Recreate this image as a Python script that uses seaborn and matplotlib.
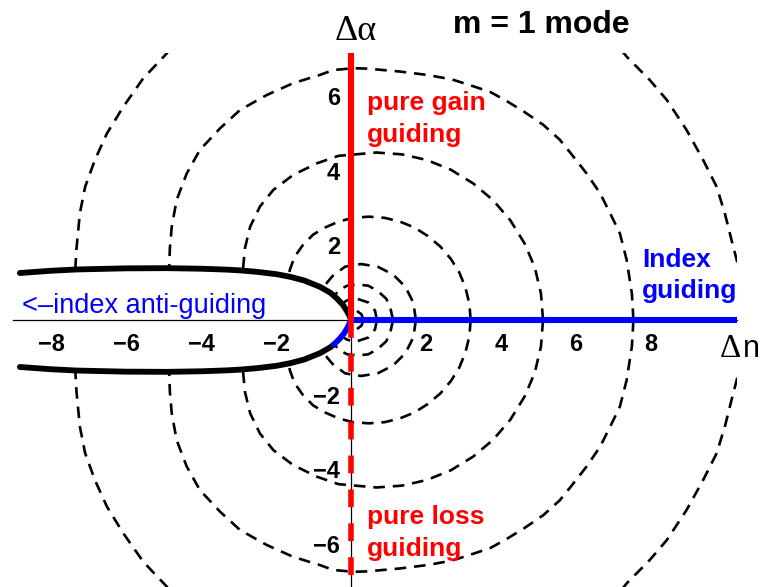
import matplotlib
matplotlib.use("Agg")
import matplotlib.pyplot as plt
import seaborn as sns
import pandas as pd

sns.set_theme(style="white")
plt.rcParams["font.family"] = ["Liberation Sans", "DejaVu Sans"]

# ---- data (Δn, Δα) ----
x_ticks = [-8, -6, -4, -2, 2, 4, 6, 8]
y_ticks = [-6, -4, -2, 2, 4, 6]

# boundary of the anti-guiding region, upper branch
edge_up_dn = [-8.83, -8.0, -7.31, -6.0, -4.91, -4.0, -3.3, -2.96, -2.5, -2.0, -1.63,
              -1.25, -0.83, -0.55, -0.38, -0.22, -0.11, -0.04, 0.0]
edge_up_da = [1.26, 1.32, 1.355, 1.385, 1.39, 1.375, 1.35, 1.33, 1.29, 1.23, 1.16,
              1.06, 0.89, 0.73, 0.58, 0.41, 0.24, 0.11, 0.0]
# lower branch (black part) and its blue tip at the origin
edge_lo_dn = [-8.83, -8.0, -7.31, -6.0, -4.91, -4.0, -3.3, -2.96, -2.5, -2.0, -1.63,
              -1.25, -0.83, -0.55, -0.45]
edge_lo_da = [-1.26, -1.32, -1.355, -1.385, -1.39, -1.375, -1.35, -1.33, -1.29, -1.23,
              -1.16, -1.06, -0.89, -0.73, -0.65]
tip_dn = [-0.45, -0.30, -0.18, -0.08, 0.0]
tip_da = [-0.65, -0.50, -0.35, -0.18, 0.0]

# index-guiding axis and gain / loss axis
index_dn = [0.0, 10.3]
index_da = [0.0, 0.0]
gain_dn = [0.0, 0.0]
gain_da = [0.0, 7.15]
loss_dn = [0.0, 0.0]
loss_da = [0.0, -7.15]

# dashed contours, upper half (mirrored for the lower half)
ring_0_dn = [0.33, 0.28, 0.15, 0.0, -0.08]
ring_0_da = [0.0, 0.15, 0.25, 0.24, 0.17]
ring_a_dn = [0.69, 0.64, 0.46, 0.13, -0.10, -0.24]
ring_a_da = [0.0, 0.25, 0.47, 0.58, 0.53, 0.44]
ring_b_dn = [1.12, 1.05, 0.94, 0.71, 0.46, 0.18, -0.10, -0.30, -0.44]
ring_b_da = [0.0, 0.32, 0.57, 0.78, 0.92, 0.95, 0.92, 0.82, 0.66]
ring_c_dn = [1.73, 1.66, 1.45, 1.12, 0.71, 0.27, -0.16, -0.50, -0.70, -0.78]
ring_c_da = [0.0, 0.47, 0.89, 1.22, 1.43, 1.50, 1.43, 1.17, 0.93, 0.84]
ring_d_dn = [3.19, 3.155, 3.05, 2.89, 2.66, 2.38, 2.05, 1.69, 1.30, 0.89, 0.47, 0.06,
             -0.33, -0.69, -1.01, -1.29, -1.50, -1.63, -1.66]
ring_d_da = [0.0, 0.44, 0.87, 1.27, 1.64, 1.97, 2.25, 2.48, 2.64, 2.74, 2.77, 2.74,
             2.64, 2.48, 2.29, 2.00, 1.70, 1.35, 1.17]
ring_e_dn = [5.12, 5.065, 4.90, 4.63, 4.25, 3.79, 3.26, 2.66, 2.02, 1.36, 0.68, 0.0,
             -0.34, -0.91, -1.54, -2.07, -2.43, -2.69, -2.83, -2.88]
ring_e_da = [0.0, 0.71, 1.41, 2.05, 2.67, 3.21, 3.66, 4.03, 4.29, 4.44, 4.49, 4.43,
             4.40, 4.20, 3.89, 3.49, 3.04, 2.50, 1.92, 1.37]
ring_f_dn = [7.53, 7.49, 7.43, 7.35, 7.17, 6.91, 6.64, 6.28, 5.93, 5.57, 5.13, 4.62,
             4.15, 3.72, 3.25, 2.69, 2.03, 1.31, 0.43, 0.05, -0.48, -0.83, -1.54, -2.25,
             -2.96, -3.49, -4.03, -4.38, -4.65, -4.78, -4.83, -4.85]
ring_f_da = [0.0, 0.70, 1.09, 1.61, 2.32, 2.86, 3.40, 3.93, 4.38, 4.83, 5.23, 5.58,
             5.87, 6.11, 6.27, 6.45, 6.57, 6.66, 6.74, 6.75, 6.70, 6.57, 6.35, 6.03,
             5.63, 5.14, 4.56, 3.93, 3.22, 2.50, 1.92, 1.40]
ring_g_right_dn = [10.30, 10.18, 9.97, 9.75, 9.39, 8.95, 8.42, 7.97, 7.35, 7.20]
ring_g_right_da = [1.55, 2.01, 2.85, 3.57, 4.29, 5.09, 5.90, 6.43, 7.06, 7.25]
ring_g_left_dn = [-4.85, -4.91, -5.54, -6.07, -6.51, -6.83, -7.09, -7.23, -7.32, -7.35]
ring_g_left_da = [7.25, 7.15, 6.48, 5.72, 5.00, 4.29, 3.57, 2.86, 1.92, 1.40]

rings = [
    (ring_0_dn, ring_0_da), (ring_a_dn, ring_a_da), (ring_b_dn, ring_b_da),
    (ring_c_dn, ring_c_da), (ring_d_dn, ring_d_da), (ring_e_dn, ring_e_da),
    (ring_f_dn, ring_f_da), (ring_g_right_dn, ring_g_right_da),
    (ring_g_left_dn, ring_g_left_da),
]

# ---- figure ----
fig = plt.figure(figsize=(7.66, 5.87), dpi=100)
ax = fig.add_axes([0.01762, 0.0005, 0.9449, 0.9087])
ax.set_xlim(-9.0, 10.3)
ax.set_ylim(-7.15, 7.15)


def curve(dn, da, **kw):
    df = pd.DataFrame({"dn": dn, "da": da})
    sns.lineplot(data=df, x="dn", y="da", sort=False, estimator=None, ax=ax, **kw)


dash_kw = dict(color="black", lw=1.9, linestyle=(0, (4.4, 3.0)), zorder=1)
for dn, da in rings:
    curve(dn, da, **dash_kw)
    curve(dn, [-v for v in da], **dash_kw)

line_kw = dict(lw=4.2, zorder=3, solid_capstyle="round", solid_joinstyle="round")
curve(edge_up_dn, edge_up_da, color="black", **line_kw)
curve(edge_lo_dn, edge_lo_da, color="black", **line_kw)
curve(tip_dn, tip_da, color="blue", **line_kw)
curve(index_dn, index_da, color="blue", lw=4.4, zorder=4, solid_capstyle="round")
curve(gain_dn, gain_da, color="red", lw=4.4, zorder=5, solid_capstyle="butt")
curve(loss_dn, loss_da, color="red", lw=4.0, zorder=5, linestyle=(0, (3.2, 2.9)))

# axes through the origin
for side in ("top", "right"):
    ax.spines[side].set_visible(False)
ax.spines["left"].set_position(("data", 0))
ax.spines["bottom"].set_position(("data", 0))
for side in ("left", "bottom"):
    ax.spines[side].set_linewidth(0.9)
    ax.spines[side].set_color("black")
    ax.spines[side].set_zorder(2)

ax.set_xticks(x_ticks)
ax.set_xticklabels([str(v).replace("-", "\u2212") for v in x_ticks])
ax.set_yticks(y_ticks)
ax.set_yticklabels([str(v).replace("-", "\u2212") for v in y_ticks])
ax.tick_params(axis="both", direction="in", length=3, width=0.8, color="black",
               labelsize=17, labelcolor="black")
ax.tick_params(axis="x", pad=9)
ax.tick_params(axis="y", pad=8)
for lab in ax.get_xticklabels() + ax.get_yticklabels():
    lab.set_fontweight("bold")
ax.set_xlabel("")
ax.set_ylabel("")
ax.grid(False)
ax.patch.set_alpha(0)

# labels
bold = dict(fontsize=19, fontweight="bold", ha="left", va="baseline")
ax.text(0.43, 5.62, "pure gain", color="red", **bold)
ax.text(0.43, 4.76, "guiding", color="red", **bold)
ax.text(0.43, -5.48, "pure loss", color="red", **bold)
ax.text(0.43, -6.34, "guiding", color="red", **bold)
ax.text(7.76, 1.43, "Index", color="blue", **bold)
ax.text(7.76, 0.58, "guiding", color="blue", **bold)
ax.text(-8.77, 0.20, "<\u2013index anti-guiding", color="blue", fontsize=19.5,
        ha="left", va="baseline")
ax.text(2.72, 7.69, "m = 1 mode", color="black", fontsize=23, fontweight="bold",
        ha="left", va="baseline", clip_on=False)
ax.text(-0.43, 7.51, "\u0394\u03b1", color="black", fontsize=26, family="Liberation Serif",
        ha="left", va="baseline", clip_on=False)
ax.text(9.84, -0.99, "\u0394", color="black", fontsize=24, family="Liberation Serif",
        ha="left", va="baseline", clip_on=False)
ax.text(10.45, -0.99, "n", color="black", fontsize=22,
        ha="left", va="baseline", clip_on=False)

fig.savefig("out.png", dpi=100)
